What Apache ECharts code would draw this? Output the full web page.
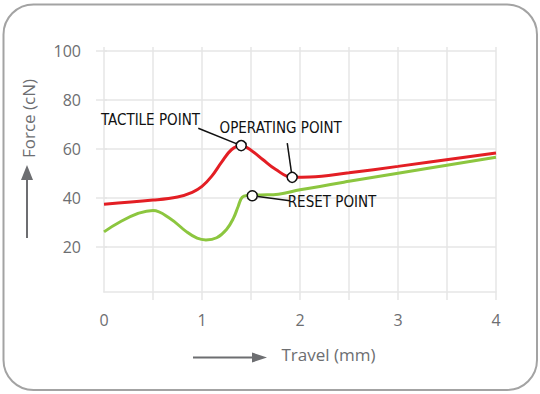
<!DOCTYPE html>
<html><head><meta charset="utf-8">
<script src="https://cdn.jsdelivr.net/npm/echarts@6/dist/echarts.min.js"></script>
<style>html,body{margin:0;padding:0;background:#fff}#c{width:540px;height:394px}</style>
</head><body><div id="c"></div><script>
// ---- data ----
const travelTicks = [0, 1, 2, 3, 4];
const forceTicks = [20, 40, 60, 80, 100];
const redTravel = [0, 0.5, 0.75, 0.9, 1.0, 1.1, 1.2, 1.3, 1.40, 1.5, 1.62, 1.75, 1.92, 2.1, 2.5, 3, 4];
const redForce  = [37.3, 39.0, 40.3, 42.2, 44.6, 48.8, 54.5, 59.6, 61.3, 59.4, 55.6, 51.6, 48.3, 48.4, 50.2, 52.8, 58.3];
const greenTravel = [0, 0.5, 0.67, 0.84, 0.95, 1.04, 1.15, 1.25, 1.32, 1.37, 1.41, 1.47, 1.6, 1.78, 2.0, 2.5, 3, 4];
const greenForce  = [26, 34.7, 31.6, 26.1, 23.4, 22.7, 23.6, 27, 31.5, 36.5, 40.2, 40.9, 41.1, 41.4, 43.2, 46.7, 50.0, 56.5];
const annotationNames = ['TACTILE POINT', 'OPERATING POINT', 'RESET POINT'];
const annotationTravel = [1.40, 1.92, 1.513];
const annotationForce = [61.3, 48.3, 40.8];

// ---- styling / layout ----
const GRID = '#e6e6e6';
const TXT = '#6d6e71';
const FONT = '"Open Sans", sans-serif';
const NFONT = '"Liberation Sans Narrow", "DejaVu Sans Condensed", sans-serif';
const pairs = (xs, ys) => xs.map((x, i) => [x, ys[i]]);
const pts = annotationNames.map((n, i) => [annotationTravel[i], annotationForce[i]]);
// leader-line start points and text anchors (data units)
const leaderFrom = [[0.962, 68.4], [1.870, 62.3], [1.898, 38.7]];
const textAt = [[0.474, 71.8], [1.803, 68.6], [2.327, 38.3]];

const chart = echarts.init(document.getElementById('c'), null, {renderer: 'svg'});
chart.setOption({
  animation: false,
  grid: {left: 104, right: 44, top: 51, bottom: 102},
  xAxis: [{
    type: 'value', min: 0, max: 4, interval: 0.5,
    name: 'Travel (mm)', nameLocation: 'middle', nameGap: 54,
    nameTextStyle: {fontFamily: FONT, fontSize: 17, color: TXT, padding: [0, 0, 0, 57]},
    axisLine: {show: true, lineStyle: {color: GRID, width: 1.5}},
    axisTick: {show: true, length: 8, customValues: [0.5, 1, 1.5, 2, 2.5, 3, 3.5, 4], lineStyle: {color: GRID, width: 1.5}},
    axisLabel: {customValues: travelTicks, margin: 20, fontFamily: FONT, fontSize: 16, color: TXT},
    splitLine: {show: true, lineStyle: {color: GRID, width: 1.5}}
  }, {
    type: 'value', position: 'top', min: 0, max: 4, interval: 0.5,
    axisLine: {show: false}, axisLabel: {show: false}, splitLine: {show: false},
    axisTick: {show: true, length: 4, lineStyle: {color: GRID, width: 1.5}}
  }],
  yAxis: [{
    type: 'value', min: 1.4, max: 100,
    name: 'Force (cN)', nameLocation: 'middle', nameRotate: 90, nameGap: 67,
    nameTextStyle: {fontFamily: FONT, fontSize: 17, color: TXT, padding: [0, 0, 0, 106]},
    axisLine: {show: true, lineStyle: {color: GRID, width: 1.5}},
    axisTick: {show: true, length: 8, customValues: forceTicks, lineStyle: {color: GRID, width: 1.5}},
    axisLabel: {customValues: forceTicks, margin: 23, fontFamily: FONT, fontSize: 16, color: TXT},
    splitLine: {show: true, lineStyle: {color: GRID, width: 1.5}}
  }, {
    type: 'value', position: 'right', min: 1.4, max: 100,
    axisLine: {show: false}, axisLabel: {show: false}, splitLine: {show: false},
    axisTick: {show: true, length: 3, customValues: forceTicks, lineStyle: {color: GRID, width: 1.5}}
  }],
  graphic: [
    {type: 'rect', shape: {x: 3.5, y: 4.5, width: 533.5, height: 385.5, r: 30}, style: {fill: 'none', stroke: '#a3a3a3', lineWidth: 2}, silent: true},
    {type: 'line', shape: {x1: 27, y1: 238, x2: 27, y2: 178}, style: {stroke: TXT, lineWidth: 2}},
    {type: 'polygon', shape: {points: [[21, 180], [27, 165], [33, 180]]}, style: {fill: TXT}},
    {type: 'line', shape: {x1: 193, y1: 357.5, x2: 254, y2: 357.5}, style: {stroke: TXT, lineWidth: 2}},
    {type: 'polygon', shape: {points: [[252, 352.5], [267, 357.5], [252, 362.5]]}, style: {fill: TXT}}
  ],
  series: [{
    name: 'Operating force', type: 'line', data: pairs(redTravel, redForce),
    smooth: 0.4, showSymbol: false,
    lineStyle: {color: '#e31e24', width: 3}, z: 3
  }, {
    name: 'Return force', type: 'line', data: pairs(greenTravel, greenForce),
    smooth: 0.4, showSymbol: false,
    lineStyle: {color: '#8cc63f', width: 3}, z: 2,
    markLine: {
      silent: true, symbol: 'none', label: {show: false},
      lineStyle: {color: '#111', width: 1.5, type: 'solid'},
      data: pts.map((p, i) => [{coord: leaderFrom[i]}, {coord: p}])
    },
    markPoint: {
      silent: true, symbol: 'circle', symbolSize: 0,
      data: annotationNames.map((n, i) => ({
        coord: textAt[i], value: n,
        label: {show: true, position: 'inside', formatter: n, color: '#111', fontFamily: NFONT, fontSize: 15}
      }))
    }
  }, {
    name: 'Annotated points', type: 'scatter', data: pts,
    symbol: 'circle', symbolSize: 10, z: 10,
    itemStyle: {color: '#fff', borderColor: '#111', borderWidth: 1.5, opacity: 1}
  }]
});
</script></body></html>
